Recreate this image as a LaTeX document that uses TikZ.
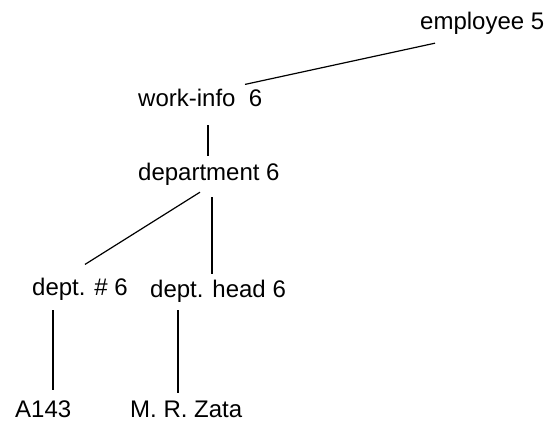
\documentclass[tikz,border=0pt]{standalone}
\usepackage{fontspec}
\setmainfont{Liberation Sans}
\begin{document}
\begin{tikzpicture}[x=1pt,y=-1pt,
  lbl/.style={anchor=base west,inner sep=0pt,font=\fontsize{24}{28}\selectfont},
  edge/.style={draw=black,line width=1.2pt}]
\useasboundingbox (0,0) rectangle (549,425);
% tree labels
\node[lbl] (emp) at (420,30)  {employee 5};
\node[lbl] (wi)  at (138,107) {work-info~~6};
\node[lbl] (dep) at (138,181) {department 6};
\node[lbl] (dn)  at (32,295)  {dept. \# 6};
\node[lbl] (dh)  at (150,297) {dept. head 6};
\node[lbl] (a)   at (15,417)  {A143};
\node[lbl] (mz)  at (130,417) {M. R. Zata};
% branches
\draw[edge] ([xshift=107pt,yshift=5pt]wi.north west) -- ([xshift=15pt,yshift=-8pt]emp.south west);
\draw[edge] ([xshift=70pt,yshift=-18pt]wi.south west) -- ([xshift=70pt,yshift=7pt]dep.north west);
\draw[edge] ([xshift=62pt,yshift=-6pt]dep.south west) -- ([xshift=53pt,yshift=13pt]dn.north west);
\draw[edge] ([xshift=74pt,yshift=-11pt]dep.south west) -- ([xshift=62pt,yshift=5pt]dh.north west);
\draw[edge] ([xshift=21pt,yshift=-10pt]dn.south west) -- ([xshift=38pt,yshift=10pt]a.north west);
\draw[edge] ([xshift=28pt,yshift=-8pt]dh.south west) -- ([xshift=48pt,yshift=7pt]mz.north west);
\end{tikzpicture}
\end{document}
